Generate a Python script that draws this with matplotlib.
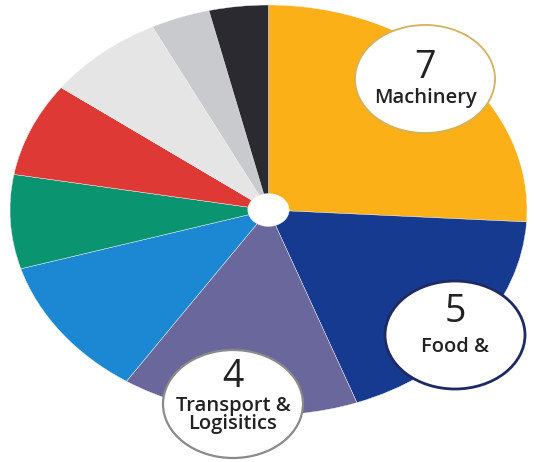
import matplotlib
matplotlib.use('Agg')
import matplotlib.pyplot as plt
from matplotlib.patches import Ellipse

# sector counts, clockwise from 12 o'clock
sectors = ['Machinery', 'Food &', 'Transport &\nLogisitics', 'Sector 4', 'Sector 5',
           'Sector 6', 'Sector 7', 'Sector 8', 'Sector 9']
counts = [7, 5, 4, 3, 2, 2, 2, 1, 1]
colors = ['#FBB018', '#163A8F', '#69679C', '#1C87D3', '#0B9470',
          '#DE3934', '#E6E5E5', '#C9CACD', '#2B2A30']

# callout bubbles: sector index, bubble centre (px), edge colour, edge width,
# vertical offsets of the number and the label
callouts = [(0, (425, 79), '#D2B25A', 1.3, -11, 19),
            (1, (455, 335), '#1E2A62', 2.0, -23, 12),
            (2, (233, 404), '#8A8A8A', 1.6, -27, 11)]

W, H = 541, 462
fig = plt.figure(figsize=(W / 100, H / 100), dpi=100)

# the pie is drawn squashed into an ellipse
left, right, top, bottom = 10, 527, 5, 415
ax = fig.add_axes([left / W, (H - bottom) / H, (right - left) / W, (bottom - top) / H])
ax.pie(counts, colors=colors, startangle=90, counterclock=False, radius=1,
       wedgeprops=dict(width=0.92, edgecolor='#f4f4f4', linewidth=0.3))
ax.set_aspect('auto')
ax.set_xlim(-1, 1)
ax.set_ylim(-1, 1)
ax.axis('off')

# overlay in pixel coordinates for the bubbles
ov = fig.add_axes([0, 0, 1, 1])
ov.set_xlim(0, W)
ov.set_ylim(H, 0)
ov.axis('off')

for idx, (cx, cy), ec, lw, dn, dl in callouts:
    ov.add_patch(Ellipse((cx, cy), 140, 108, facecolor='white', edgecolor=ec, linewidth=lw))
    ov.text(cx, cy + dn, str(counts[idx]), ha='center', va='center',
            fontsize=27, family='Open Sans', color='#222222')
    ov.text(cx, cy + dl, sectors[idx], ha='center', va='center', fontsize=14.5,
            family='Open Sans', fontweight='semibold', color='#222222',
            linespacing=0.9)

fig.savefig('out.png', dpi=100, facecolor='white')
